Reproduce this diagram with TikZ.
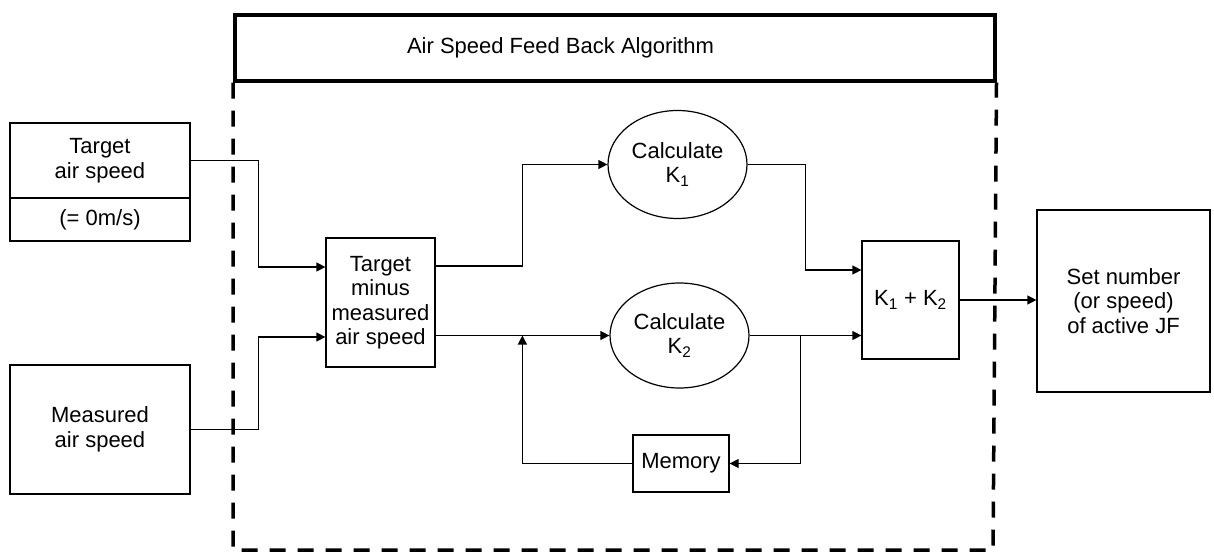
\documentclass[tikz,border=0pt]{standalone}
\usepackage{fontspec}
\setmainfont{Liberation Sans}
\usetikzlibrary{arrows.meta,shapes.geometric,calc}
\begin{document}
\begin{tikzpicture}[x=1pt,y=-1pt,
  every node/.style={font=\fontsize{22}{24.5}\selectfont, align=center, inner sep=0pt},
  box/.style={draw, line width=1.2pt, fill=white},
  ell/.style={draw, ellipse, line width=1.2pt, fill=white},
  arr/.style={-{Triangle[length=9pt,width=9pt]}, line width=1.2pt},
  frame/.style={draw, line width=3.5pt},
  dashframe/.style={line width=3.5pt, dash pattern=on 16pt off 12pt}]
\useasboundingbox (0,0) rectangle (1214,554);

% frame
\node[frame, minimum width=760, minimum height=66, anchor=north west] (title) at (233,13) {};
\node[anchor=base] (ttl) at (560.5,53) {Air Speed Feed Back Algorithm};
\coordinate (fbl) at (233,550);
\coordinate (fbr) at (993,550);
\draw[dashframe] (title.south west) -- (fbl) -- (fbr) -- (title.south east);

% nodes
\node[box, minimum width=180, minimum height=75] (tgt) at (100,160.5) {Target\\air speed};
\node[box, minimum width=180, minimum height=43] (tgtb) at (100,219.5) {(= 0m/s)};
\node[box, minimum width=180, minimum height=129] (meas) at (100,429.5) {Measured\\air speed};
\node[box, minimum width=109, minimum height=129] (sub) at (380.5,302.5) {Target\\minus\\measured\\air speed};
\node[ell, minimum width=139, minimum height=108] (k1) at (677.5,164.5) {Calculate\\K\textsubscript{1}};
\node[ell, minimum width=139, minimum height=105] (k2) at (679.5,335.5) {Calculate\\K\textsubscript{2}};
\node[box, minimum width=97, minimum height=118] (sum) at (910.5,300) {K\textsubscript{1} + K\textsubscript{2}};
\node[box, minimum width=173, minimum height=182] (out) at (1123.5,301) {Set number\\(or speed)\\of active JF};
\node[box, minimum width=96, minimum height=57] (mem) at (681,463.5) {Memory};

% connectors
\draw[arr] (tgt.east) -- ++(68,0) |- ($(sub.west)+(0,-35.5)$);
\draw[arr] (meas.east) -- ++(68,0) |- ($(sub.west)+(0,34.5)$);
\draw[arr] ($(sub.east)+(0,-36.5)$) -- ++(87,0) |- (k1.west);
\draw[arr] ($(sub.east)+(0,33)$) -- (k2.west);
\draw[arr] (k1.east) -- ++(58,0) |- ($(sum.west)+(0,-30)$);
\draw[arr] (k2.east) -- (k2.east -| sum.west);
\coordinate (br) at ($(k2.east)+(51,0)$);
\draw[arr] (br) |- (mem.east);
\draw[arr] (mem.west) -| ($(k2.west)+(-87,0)$);
\draw[arr] (sum.east) -- (sum.east -| out.west);
\end{tikzpicture}
\end{document}
